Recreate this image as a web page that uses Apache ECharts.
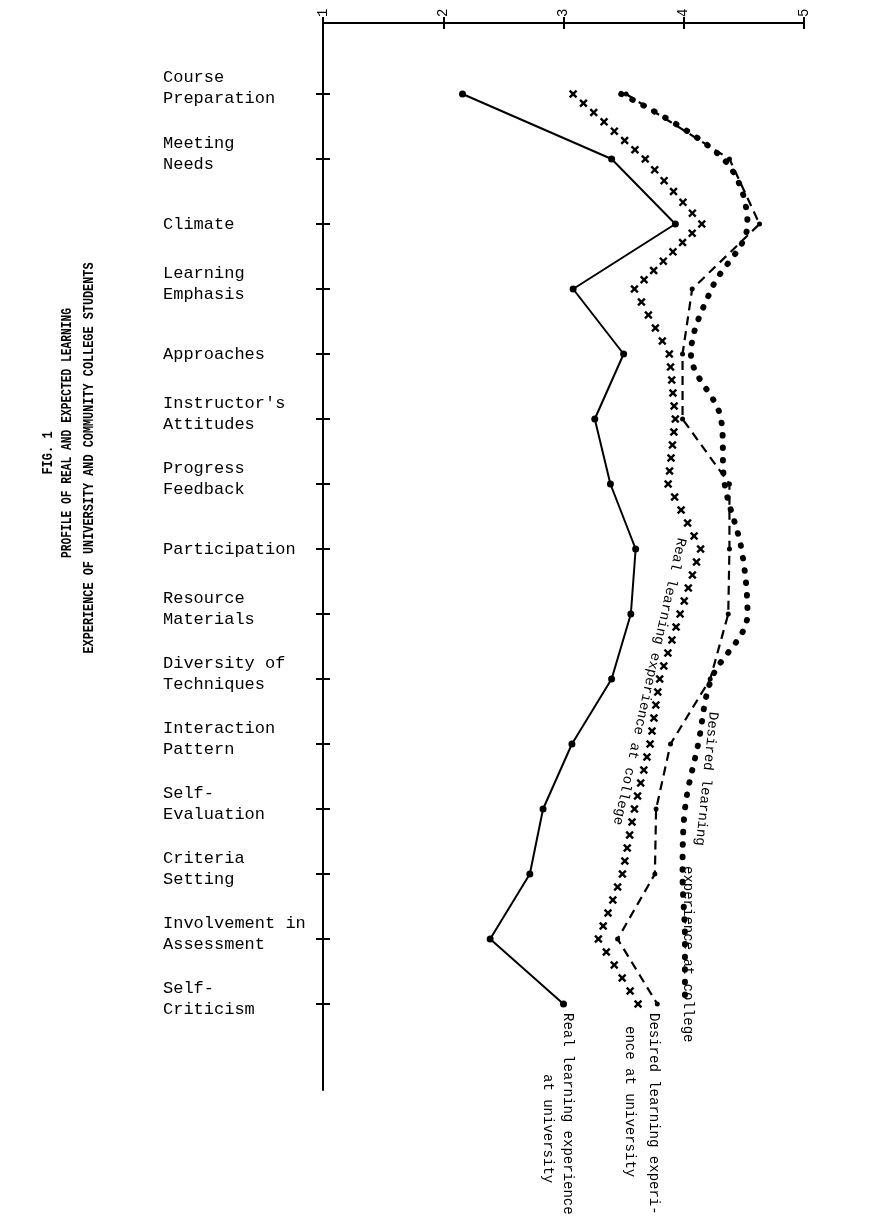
<!DOCTYPE html>
<html>
<head>
<meta charset="utf-8">
<script src="https://cdn.jsdelivr.net/npm/echarts@6/dist/echarts.min.js"></script>
<style>
html,body{margin:0;padding:0;background:#fff;}
#c{width:871px;height:1227px;}
</style>
</head>
<body>
<div id="c"></div>
<script>
const categories = ['Course\nPreparation','Meeting\nNeeds','Climate','Learning\nEmphasis','Approaches',"Instructor's\nAttitudes",'Progress\nFeedback','Participation','Resource\nMaterials','Diversity of\nTechniques','Interaction\nPattern','Self-\nEvaluation','Criteria\nSetting','Involvement in\nAssessment','Self-\nCriticism'];
const scaleTicks = [1, 2, 3, 4, 5];
const realUniversity    = [2.16, 3.40, 3.93, 3.08, 3.50, 3.26, 3.39, 3.60, 3.56, 3.40, 3.07, 2.83, 2.72, 2.39, 3.00];
const desiredUniversity = [3.52, 4.38, 4.63, 4.07, 3.99, 3.99, 4.38, 4.38, 4.37, 4.22, 3.89, 3.77, 3.76, 3.45, 3.78];
const realCollege       = [3.08, 3.68, 4.15, 3.59, 3.88, 3.93, 3.87, 4.14, 3.97, 3.80, 3.72, 3.59, 3.49, 3.29, 3.62];
const desiredCollege    = [3.48, 4.33, 4.53, 4.23, 4.06, 4.31, 4.34, 4.48, 4.53, 4.23, 4.12, 4.01, 3.99, 4.01, 4.01];

const FONT = 'Liberation Mono';
const idx = categories.map((_, i) => i);
const pairs = arr => arr.map((v, i) => [v, i]);

function catLabel(v) {
  const c = categories[v];
  if (c === undefined) return '';
  const parts = c.split('\n');
  if (parts.length === 2) return '{a|' + parts[0] + '}\n{b|' + parts[1] + '}';
  return '{s|' + c + '}';
}

const chart = echarts.init(document.getElementById('c'), null, {renderer: 'canvas'});

const yBase = {
  type: 'value', inverse: true, min: -1.0923, max: 15.323, gridIndex: 0, position: 'left', offset: 0,
  splitLine: {show: false}
};
const xBase = {
  type: 'value', position: 'top', offset: 0, min: scaleTicks[0], max: scaleTicks[scaleTicks.length - 1], interval: 1, gridIndex: 0,
  splitLine: {show: false}
};

const option = {
  animation: false,
  backgroundColor: '#fff',
  grid: {left: 323, top: 23, width: 481, height: 1067, containLabel: false},
  xAxis: [
    Object.assign({}, xBase, {
      axisLine: {show: true, onZero: false, lineStyle: {color: '#000', width: 2}},
      axisTick: {show: true, length: 6, lineStyle: {color: '#000', width: 2}},
      axisLabel: {show: true, rotate: -90, margin: 6, color: '#000', fontFamily: FONT, fontSize: 14,
        formatter: v => String(v)}
    }),
    Object.assign({}, xBase, {
      axisLine: {show: false, onZero: false},
      axisTick: {show: true, inside: true, length: 6, lineStyle: {color: '#000', width: 2}},
      axisLabel: {show: false}
    })
  ],
  yAxis: [
    Object.assign({}, yBase, {
      axisLine: {show: true, onZero: false, lineStyle: {color: '#000', width: 2}},
      axisTick: {show: true, length: 7, customValues: idx, lineStyle: {color: '#000', width: 2}},
      axisLabel: {show: true, customValues: idx, align: 'left', margin: 160, color: '#000',
        fontFamily: FONT, fontSize: 17, formatter: catLabel,
        rich: {
          a: {fontFamily: FONT, fontSize: 17, color: '#000', lineHeight: 10},
          b: {fontFamily: FONT, fontSize: 17, color: '#000', lineHeight: 32},
          s: {fontFamily: FONT, fontSize: 17, color: '#000', lineHeight: 21}
        }}
    }),
    Object.assign({}, yBase, {
      axisLine: {show: false, onZero: false},
      axisTick: {show: true, inside: true, length: 7, customValues: idx, lineStyle: {color: '#000', width: 2}},
      axisLabel: {show: false}
    })
  ],
  series: [
    {
      name: 'Real learning experience at university', type: 'line',
      xAxisIndex: 0, yAxisIndex: 0, data: pairs(realUniversity),
      symbol: 'circle', symbolSize: 7, itemStyle: {color: '#000'},
      lineStyle: {color: '#000', width: 2}, z: 3
    },
    {
      name: 'Desired learning experience at university', type: 'line',
      xAxisIndex: 0, yAxisIndex: 0, data: pairs(desiredUniversity),
      symbol: 'circle', symbolSize: 5, itemStyle: {color: '#000'},
      lineStyle: {color: '#000', width: 2.2, type: [9, 6]}, z: 3
    },
    {
      name: 'Desired learning experience at college', type: 'line',
      xAxisIndex: 0, yAxisIndex: 0, data: pairs(desiredCollege),
      symbol: 'none', smooth: 0.35,
      lineStyle: {color: '#000', width: 6, type: [0.5, 12], cap: 'round'}, z: 2
    },
    {
      name: 'Real learning experience at college', type: 'custom',
      xAxisIndex: 0, yAxisIndex: 0, data: pairs(realCollege),
      encode: {x: 0, y: 1},
      renderItem: function (params, api) {
        const i = params.dataIndex;
        const cur = api.coord([api.value(0), api.value(1)]);
        const children = [];
        const s = 3.4;
        const mark = (x, y) => {
          children.push(
            {type: 'line', shape: {x1: x - s, y1: y - s, x2: x + s, y2: y + s}, style: {stroke: '#000', lineWidth: 2.4}},
            {type: 'line', shape: {x1: x - s, y1: y + s, x2: x + s, y2: y - s}, style: {stroke: '#000', lineWidth: 2.4}}
          );
        };
        if (i === 0) {
          mark(cur[0], cur[1]);
        } else {
          const prev = api.coord([realCollege[i - 1], i - 1]);
          const len = Math.hypot(cur[0] - prev[0], cur[1] - prev[1]);
          const n = Math.max(1, Math.round(len / 14));
          for (let k = 1; k <= n; k++) {
            const t = k / n;
            mark(prev[0] + (cur[0] - prev[0]) * t, prev[1] + (cur[1] - prev[1]) * t);
          }
        }
        return {type: 'group', children: children};
      },
      z: 2
    }
  ]
};

chart.setOption(option);

const px = (v, i) => chart.convertToPixel({xAxisIndex: 0, yAxisIndex: 0}, [v, i]);
function txt(text, x, y, rotation, size, align, sx, weight) {
  return {
    type: 'text', x: x, y: y, rotation: rotation, scaleX: sx || 1, z: 10,
    style: {text: text, font: (weight ? weight + ' ' : '') + size + 'px "' + FONT + '"', fill: '#000',
      align: align || 'left', verticalAlign: 'middle',
      textAlign: align || 'left', textVerticalAlign: 'middle'}
  };
}
const pRU = px(realUniversity[14], 14);
const pDU = px(desiredUniversity[14], 14);
const pRC = px(realCollege[7], 7);
const pDC9 = px(desiredCollege[9], 9);
const pDC12 = px(desiredCollege[12], 12);
const down = -Math.PI / 2;

chart.setOption({
  graphic: [
    txt('FIG. 1', 48, 453, Math.PI / 2, 15, 'center', 0.8, 'bold'),
    txt('PROFILE OF REAL AND EXPECTED LEARNING', 67, 433, Math.PI / 2, 15, 'center', 0.75, 'bold'),
    txt('EXPERIENCE OF UNIVERSITY AND COMMUNITY COLLEGE STUDENTS', 89, 458, Math.PI / 2, 15, 'center', 0.79, 'bold'),
    txt('Real learning experience', pRU[0] + 4, pRU[1] + 9, down, 14),
    txt('at university', pRU[0] - 16, pRU[1] + 70, down, 14),
    txt('Desired learning experi-', pDU[0] - 4, pDU[1] + 9, down, 14),
    txt('ence at university', pDU[0] - 28, pDU[1] + 22, down, 14),
    txt('Real learning experience at college', pRC[0] - 19, pRC[1] - 11, Math.atan2(-294, -66), 14),
    txt('Desired learning', pDC9[0] + 2, pDC9[1] + 33, Math.atan2(-145, -15), 14),
    txt('experience at college', pDC12[0] + 5, pDC12[1] - 8, down, 14)
  ]
});
</script>
</body>
</html>
